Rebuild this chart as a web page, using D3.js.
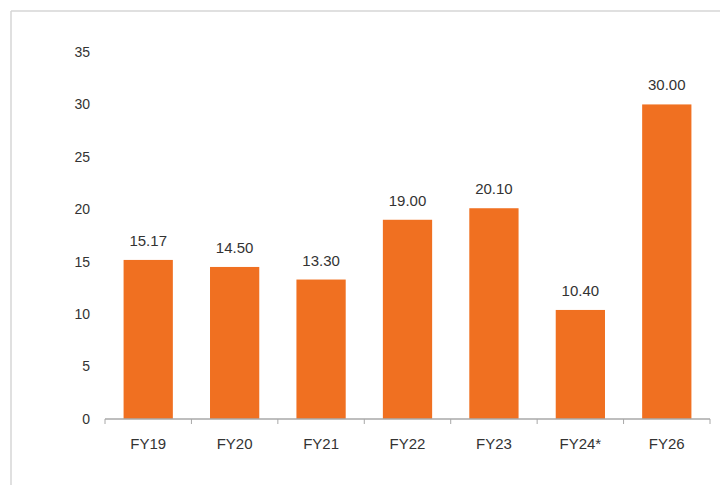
<!DOCTYPE html>
<html><head><meta charset="utf-8">
<script src="https://cdn.jsdelivr.net/npm/d3@7/dist/d3.min.js"></script>
<style>body{margin:0;background:#fff}svg{display:block;font-family:"Liberation Sans",Arial,sans-serif}</style>
</head><body>
<script>
const categories = ["FY19","FY20","FY21","FY22","FY23","FY24*","FY26"];
const values = [15.17,14.50,13.30,19.00,20.10,10.40,30.00];
const valueLabels = ["15.17","14.50","13.30","19.00","20.10","10.40","30.00"];
const yTicks = [0,5,10,15,20,25,30,35];

const W=720,H=485;
const svg=d3.select("body").append("svg").attr("width",W).attr("height",H);
// frame
svg.append("line").attr("x1",11).attr("x2",W).attr("y1",11).attr("y2",11).attr("stroke","#d6d6d6").attr("stroke-width",1.5);
svg.append("line").attr("x1",11).attr("x2",11).attr("y1",11).attr("y2",H).attr("stroke","#d6d6d6").attr("stroke-width",1.5);

const x=d3.scaleBand().domain(categories).range([105,710]).paddingInner(0.43).paddingOuter(0.215);
const y=d3.scaleLinear().domain([0,35]).range([419,52]);

// y labels
svg.append("g").selectAll("text").data(yTicks).join("text")
 .attr("x",90).attr("y",d=>y(d)).attr("dy","0.35em").attr("text-anchor","end")
 .attr("font-size",14).attr("fill","#333").text(d=>d);

// bars
svg.append("g").selectAll("rect").data(values).join("rect")
 .attr("x",(d,i)=>x(categories[i])).attr("width",x.bandwidth())
 .attr("y",d=>y(d)).attr("height",d=>y(0)-y(d)).attr("fill","#f07021");

// value labels
svg.append("g").selectAll("text").data(values).join("text")
 .attr("x",(d,i)=>x(categories[i])+x.bandwidth()/2).attr("y",d=>y(d)-14)
 .attr("text-anchor","middle").attr("font-size",15).attr("fill","#333")
 .text((d,i)=>valueLabels[i]);

// x axis
const step=x.step();
const ax=svg.append("g");
ax.append("line").attr("x1",105).attr("x2",710).attr("y1",419).attr("y2",419).attr("stroke","#a8a8a8").attr("stroke-width",1.5);
const bounds=d3.range(categories.length+1).map(i=>105+i*(605/categories.length));
ax.selectAll("line.t").data(bounds).join("line").attr("class","t")
 .attr("x1",d=>d).attr("x2",d=>d).attr("y1",419).attr("y2",424).attr("stroke","#a8a8a8");
ax.selectAll("text").data(categories).join("text")
 .attr("x",d=>x(d)+x.bandwidth()/2).attr("y",449).attr("text-anchor","middle")
 .attr("font-size",15).attr("fill","#333").text(d=>d);
</script>
</body></html>
